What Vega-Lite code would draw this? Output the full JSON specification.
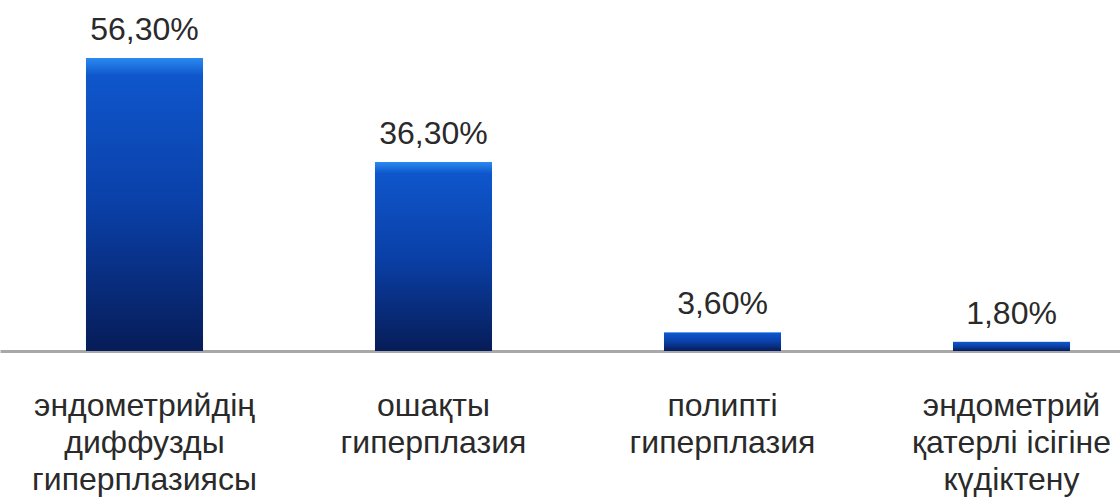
{
  "$schema": "https://vega.github.io/schema/vega-lite/v6.json",
  "autosize": "none",
  "width": 1156,
  "height": 293,
  "padding": {"left": 0, "top": 58, "right": 0, "bottom": 149},
  "background": "white",
  "data": {"values": [
    {"cat": "эндометрийдің|диффузды|гиперплазиясы", "value": 56.3, "label": "56,30%"},
    {"cat": "ошақты|гиперплазия", "value": 36.3, "label": "36,30%"},
    {"cat": "полипті|гиперплазия", "value": 3.6, "label": "3,60%"},
    {"cat": "эндометрий|қатерлі ісігіне|күдіктену", "value": 1.8, "label": "1,80%"}
  ]},
  "config": {"view": {"stroke": null}, "font": "Liberation Sans"},
  "encoding": {
    "x": {"field": "cat", "type": "nominal", "sort": null,
      "scale": {"paddingInner": 0.595, "paddingOuter": 0.2975},
      "axis": {"title": null, "labelAngle": 0, "ticks": false, "domainColor": "#a8a8a8", "domainWidth": 3,
        "labelExpr": "split(datum.label, '|')", "labelFontSize": 32, "labelColor": "#2a2a2a", "labelLimit": 0,
        "labelLineHeight": 37, "labelPadding": 54, "labelBaseline": "middle", "labelFont": "Liberation Sans"}},
    "y": {"field": "value", "type": "quantitative", "scale": {"domain": [0, 56.3], "nice": false}, "axis": null}
  },
  "layer": [
    {"mark": {"type": "bar", "color": {"gradient": "linear", "x1": 0, "y1": 0, "x2": 0, "y2": 1,
      "stops": [{"offset": 0, "color": "#2a8af0"}, {"offset": 0.06, "color": "#0f56cc"}, {"offset": 0.5, "color": "#0a40a8"}, {"offset": 1, "color": "#071c58"}]}}},
    {"mark": {"type": "text", "baseline": "alphabetic", "dy": -18, "fontSize": 32, "color": "#2a2a2a", "font": "Liberation Sans"},
      "encoding": {"text": {"field": "label"}}}
  ]
}
